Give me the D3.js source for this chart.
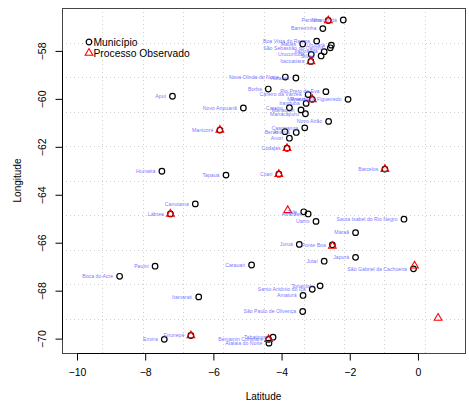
<!DOCTYPE html>
<html>
<head>
<meta charset="utf-8">
<script src="https://cdn.jsdelivr.net/npm/d3@7"></script>
<style>
  body { margin: 0; background: #fff; }
  svg { display: block; font-family: "Liberation Sans", Arial, sans-serif; }
</style>
</head>
<body>
<script>
// prettier-ignore
const municipios = [
  "Parintins", "Nhamundá", "Barreirinha", "Boa Vista do Ramos", "Maués", "Urucará",
  "São Sebastião do Uatumã", "Itapiranga", "Urucurituba", "Silves", "Itacoatiara",
  "Nova Olinda do Norte", "Autazes", "Borba", "Rio Preto da Eva", "Careiro da Várzea",
  "Manaus", "Presidente Figueiredo", "Iranduba", "Careiro", "Manaquiri", "Manacapuru",
  "Novo Aripuanã", "Apuí", "Novo Airão", "Caapiranga", "Anamã", "Beruri", "Anori",
  "Manicoré", "Codajás", "Barcelos", "Coari", "Tapauá", "Humaitá", "Canutama", "Lábrea",
  "Tefé", "Alvarães", "Uarini", "Santa Isabel do Rio Negro", "Maraã", "Juruá", "Fonte Boa",
  "Japurá", "Jutaí", "Carauari", "Pauini", "São Gabriel da Cachoeira", "Boca do Acre",
  "Tonantins", "Santo Antônio do Içá", "Amaturá", "Itamarati", "São Paulo de Olivença",
  "Eirunepé", "Tabatinga", "Benjamin Constant", "Envira", "Atalaia do Norte"
];
// prettier-ignore
const munLat = [
  -2.63, -2.19, -2.79, -2.97, -3.38, -2.54,
  -2.57, -2.75, -3.13, -2.84, -3.14,
  -3.89, -3.58, -4.39, -2.70, -3.22,
  -3.10, -2.05, -3.28, -3.77, -3.43, -3.30,
  -5.12, -7.20, -2.62, -3.32, -3.57, -3.90, -3.77,
  -5.81, -3.84, -0.97, -4.08, -5.63, -7.51, -6.53, -7.26,
  -3.35, -3.22, -2.99, -0.41, -1.83, -3.48, -2.51,
  -1.83, -2.75, -4.88, -7.71, -0.13, -8.75,
  -2.87, -3.10, -3.37, -6.43, -3.38,
  -6.66, -4.25, -4.38, -7.44, -4.37
];
// prettier-ignore
const munLon = [
  -56.73, -56.71, -57.07, -57.59, -57.71, -57.76,
  -57.87, -58.03, -58.15, -58.21, -58.44,
  -59.09, -59.13, -59.59, -59.70, -59.82,
  -60.02, -60.02, -60.19, -60.37, -60.46, -60.62,
  -60.38, -59.89, -60.94, -61.21, -61.40, -61.37, -61.64,
  -61.30, -62.06, -62.93, -63.14, -63.18, -63.02, -64.38, -64.80,
  -64.71, -64.80, -65.11, -65.02, -65.58, -66.07, -66.09,
  -66.61, -66.77, -66.93, -66.98, -67.09, -67.40,
  -67.80, -67.94, -68.20, -68.26, -68.87,
  -69.87, -69.94, -70.03, -70.03, -70.19
];

// processo observado
// prettier-ignore
const obsLat = [-2.63, -3.14, -3.10, -5.81, -3.84, -4.08, -0.97, -3.82, -7.26, -2.51, -0.10, 0.59, -4.38, -6.66];
// prettier-ignore
const obsLon = [-56.73, -58.44, -60.02, -61.30, -62.06, -63.14, -62.93, -64.65, -64.80, -66.14, -66.96, -69.14, -70.03, -69.87];

const xTicks = [-10, -8, -6, -4, -2, 0];
const yTicks = [-58, -60, -62, -64, -66, -68, -70];
const legendLabels = ["Município", "Processo Observado"];

const width = 469;
const height = 403;
const plot = { left: 62, right: 465, top: 8, bottom: 353 };

const xScale = d3.scaleLinear().domain([-10.44, 1.38]).range([plot.left, plot.right]);
const yScale = d3.scaleLinear().domain([-70.6, -56.21]).range([plot.bottom, plot.top]);

const svg = d3.select("body").append("svg").attr("width", width).attr("height", height);

// grid, 10 equal cells like R's grid(10, 10)
const xd = xScale.domain();
const yd = yScale.domain();
const gridX = d3.range(1, 10).map((k) => xd[0] + (k * (xd[1] - xd[0])) / 10);
const gridY = d3.range(1, 10).map((k) => yd[0] + (k * (yd[1] - yd[0])) / 10);

const grid = svg.append("g").attr("stroke", "#cfcfcf").attr("stroke-width", 1).attr("stroke-dasharray", "1 3");
grid.selectAll("line.gx").data(gridX).enter().append("line")
  .attr("x1", (d) => Math.round(xScale(d)) + 0.5).attr("x2", (d) => Math.round(xScale(d)) + 0.5)
  .attr("y1", plot.top).attr("y2", plot.bottom);
grid.selectAll("line.gy").data(gridY).enter().append("line")
  .attr("y1", (d) => Math.round(yScale(d)) + 0.5).attr("y2", (d) => Math.round(yScale(d)) + 0.5)
  .attr("x1", plot.left).attr("x2", plot.right);

// box
svg.append("rect")
  .attr("x", plot.left + 0.5).attr("y", plot.top + 0.5)
  .attr("width", plot.right - plot.left).attr("height", plot.bottom - plot.top)
  .attr("fill", "none").attr("stroke", "#444").attr("stroke-width", 1);

// axes
const xAxis = d3.axisBottom(xScale).tickValues(xTicks).tickSize(7).tickPadding(8)
  .tickFormat((d) => (d < 0 ? "\u2212" + Math.abs(d) : d));
const yAxis = d3.axisLeft(yScale).tickValues(yTicks).tickSize(7).tickPadding(0)
  .tickFormat((d) => "\u2212" + Math.abs(d));

const gx = svg.append("g").attr("transform", `translate(0 ${plot.bottom + 0.5})`).call(xAxis);
gx.select(".domain").attr("d", `M${xScale(-10)},0H${xScale(0)}`);
gx.selectAll("text").attr("font-size", 10.5).attr("fill", "#000");

const gy = svg.append("g").attr("transform", `translate(${plot.left + 0.5} 0)`).call(yAxis);
gy.select(".domain").attr("d", `M0,${yScale(-58)}V${yScale(-70)}`);
gy.selectAll("text")
  .attr("font-size", 10.5).attr("fill", "#000")
  .attr("text-anchor", "middle")
  .attr("x", 0).attr("dy", 0)
  .attr("transform", "translate(-20 0) rotate(-90)");
gy.selectAll(".tick text").attr("y", 0).attr("dy", "0.35em");
svg.selectAll(".domain, .tick line").attr("stroke", "#000");

// axis titles
svg.append("text")
  .attr("x", (plot.left + plot.right) / 2).attr("y", 400)
  .attr("text-anchor", "middle").attr("font-size", 10).text("Latitude");
svg.append("text")
  .attr("transform", `translate(21 ${(plot.top + plot.bottom) / 2}) rotate(-90)`)
  .attr("text-anchor", "middle").attr("font-size", 10).text("Longitude");

// points
const munData = municipios.map((name, i) => ({ name, lat: munLat[i], lon: munLon[i] }));
const obsData = obsLat.map((lat, i) => ({ lat, lon: obsLon[i] }));
const triangle = d3.symbol().type(d3.symbolTriangle).size(26);

svg.append("g").selectAll("circle").data(munData).enter().append("circle")
  .attr("cx", (d) => xScale(d.lat)).attr("cy", (d) => yScale(d.lon))
  .attr("r", 2.8).attr("fill", "none").attr("stroke", "#000").attr("stroke-width", 1.2);

svg.append("g").selectAll("path").data(obsData).enter().append("path")
  .attr("d", triangle)
  .attr("transform", (d) => `translate(${xScale(d.lat)} ${yScale(d.lon)})`)
  .attr("fill", "none").attr("stroke", "#ff0000").attr("stroke-width", 1.1);

svg.append("g").selectAll("text").data(munData).enter().append("text")
  .attr("x", (d) => xScale(d.lat) - 6.5).attr("y", (d) => yScale(d.lon))
  .attr("dy", "0.35em").attr("text-anchor", "end")
  .attr("font-size", 5.2).attr("fill", "#5a5aff").attr("fill-opacity", 0.85)
  .text((d) => d.name);

// legend
const legend = svg.append("g").attr("transform", "translate(89 42)");
legend.append("circle").attr("r", 2.8).attr("fill", "none").attr("stroke", "#000").attr("stroke-width", 1.2);
legend.append("path").attr("d", triangle).attr("transform", "translate(0 11)")
  .attr("fill", "none").attr("stroke", "#ff0000").attr("stroke-width", 1.1);
legend.selectAll("text").data(legendLabels).enter().append("text")
  .attr("x", 4.5).attr("y", (d, i) => i * 11).attr("dy", "0.35em")
  .attr("font-size", 10.3).attr("fill", "#000").text((d) => d);
</script>
</body>
</html>
